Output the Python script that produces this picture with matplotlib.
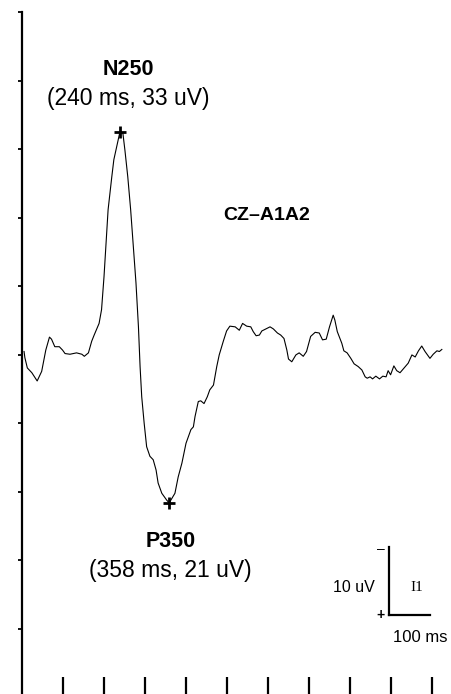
"""
ERP waveform at CZ-A1A2 with N250 / P350 peaks
"""
import matplotlib
matplotlib.use('Agg')
import matplotlib.pyplot as plt

# time (ms) and amplitude (uV, negative plotted up)
time_ms = [5, 7, 13, 24, 37, 48, 58, 67, 72, 80, 91, 99, 105, 117, 133, 146, 152, 162,
           170, 176, 188, 194, 200, 205, 210, 219, 224, 231, 239, 246, 251, 258, 265,
           271, 278, 284, 288, 292, 298, 304, 312, 320, 327, 332, 341, 353, 359, 373,
           381, 390, 400, 412, 418, 422, 430, 436, 444, 452, 458, 467, 475, 481, 491,
           499, 507, 520, 530, 538, 548, 558, 564, 571, 579, 585, 595, 605, 613, 623,
           631, 639, 646, 650, 658, 668, 676, 686, 694, 704, 715, 725, 733, 742, 750,
           759, 763, 769, 780, 785, 793, 802, 810, 820, 829, 837, 842, 849, 855, 863,
           872, 880, 888, 893, 899, 907, 914, 922, 932, 942, 951, 959, 967, 975, 983,
           995, 1003, 1012, 1018, 1024]
amp_uv = [-0.5, 0.4, 1.9, 2.6, 3.8, 2.4, -0.7, -2.6, -2.3, -1.2, -1.2, -0.7, -0.2, -0.1,
          -0.3, -0.1, 0.2, -0.3, -2.0, -2.9, -4.6, -6.6, -11.4, -16.3, -21.2, -26.0,
          -28.5, -30.4, -32.6, -32.4, -29.9, -26.0, -21.2, -16.3, -10.5, -4.1, 1.7, 6.1,
          10.0, 13.4, 14.8, 15.3, 16.8, 18.7, 20.2, 21.2, 21.6, 20.2, 17.8, 15.8, 12.9,
          10.9, 10.5, 9.0, 6.8, 6.7, 7.1, 6.1, 5.1, 4.4, 1.7, 0.0, -2.0, -3.5, -4.2,
          -4.1, -3.6, -4.6, -4.2, -4.1, -3.4, -2.8, -2.9, -3.5, -3.8, -4.1, -3.8, -3.2,
          -2.9, -2.4, -0.7, 0.6, 1.0, 0.0, -0.3, 0.2, -0.5, -2.7, -3.3, -3.2, -2.2,
          -2.3, -4.1, -5.8, -5.1, -3.4, -1.7, -0.6, -0.3, 0.5, 1.3, 1.7, 2.2, 3.2, 3.4,
          3.2, 3.5, 3.1, 3.5, 3.1, 3.2, 2.3, 2.9, 1.6, 2.3, 2.6, 1.9, 1.2, 0.0, 0.3,
          -0.6, -1.3, -0.5, 0.5, -0.1, -0.6, -0.5, -0.8]

peak_ms = [240, 359]
peak_uv = [-32.6, 21.6]
peak_names = ['N250', 'P350']
peak_labels = ['(240 ms, 33 uV)', '(358 ms, 21 uV)']

x_ticks = [100, 200, 300, 400, 500, 600, 700, 800, 900, 1000]
y_ticks = [-50, -40, -30, -20, -10, 0, 10, 20, 30, 40]

W, H = 451, 694
fig = plt.figure(figsize=(W / 100, H / 100), dpi=100)
fig.patch.set_facecolor('white')

# axes placed so that 100 ms = 41 px and 10 uV = 68.5 px
px_ms, px_uv = 0.41, 6.85
x_max, y_top, y_bot = 1040, -50, 49.5
ax = fig.add_axes([22 / W, 0, x_max * px_ms / W, (y_bot - y_top) * px_uv / H])
ax.set_xlim(0, x_max)
ax.set_ylim(y_bot, y_top)

for s in ['top', 'right', 'bottom']:
    ax.spines[s].set_visible(False)
ax.spines['left'].set_linewidth(1.6)

ax.set_yticks(y_ticks)
ax.set_yticklabels([])
ax.tick_params(axis='y', direction='out', length=3, width=1.3)
ax.set_xticks(x_ticks)
ax.set_xticklabels([])
ax.tick_params(axis='x', direction='in', length=12.5, width=1.6)

ax.plot(time_ms, amp_uv, color='black', lw=0.8, solid_joinstyle='round')
ax.plot(peak_ms, peak_uv, '+', color='black', ms=8, mew=2)

sans = 'Liberation Sans'
ax.text(260, -41.6, peak_names[0], ha='center', va='center', fontsize=15.5,
        fontweight='bold', family=sans)
ax.text(260, -37.4, peak_labels[0], ha='center', va='center', fontsize=16.5, family=sans)
ax.text(362, 27.3, peak_names[1], ha='center', va='center', fontsize=15.5,
        fontweight='bold', family=sans)
ax.text(362, 31.5, peak_labels[1], ha='center', va='center', fontsize=16.5, family=sans)
ax.text(597, -20.3, 'CZ\u2013A1A2', ha='center', va='center', fontsize=14,
        fontweight='bold', family=sans)

# calibration bar: 10 uV x 100 ms
bar_x, bar_y = 895, 38
ax.plot([bar_x, bar_x], [bar_y, bar_y - 10], color='black', lw=1.6)
ax.plot([bar_x, bar_x + 100], [bar_y, bar_y], color='black', lw=1.6)
ax.text(bar_x - 20, bar_y - 9.6, '\u2013', ha='center', va='center', fontsize=10, family=sans)
ax.text(bar_x - 20, bar_y, '+', ha='center', va='center', fontsize=10,
        fontweight='bold', family=sans)
ax.text(bar_x - 35, bar_y - 4, '10 uV', ha='right', va='center', fontsize=11.5, family=sans)
ax.text(bar_x + 67, bar_y - 4, 'I1', ha='center', va='center', fontsize=11,
        family='Liberation Serif')
ax.text(bar_x + 77, bar_y + 3.3, '100 ms', ha='center', va='center', fontsize=12, family=sans)

plt.savefig('out.png', dpi=100, facecolor='white')
